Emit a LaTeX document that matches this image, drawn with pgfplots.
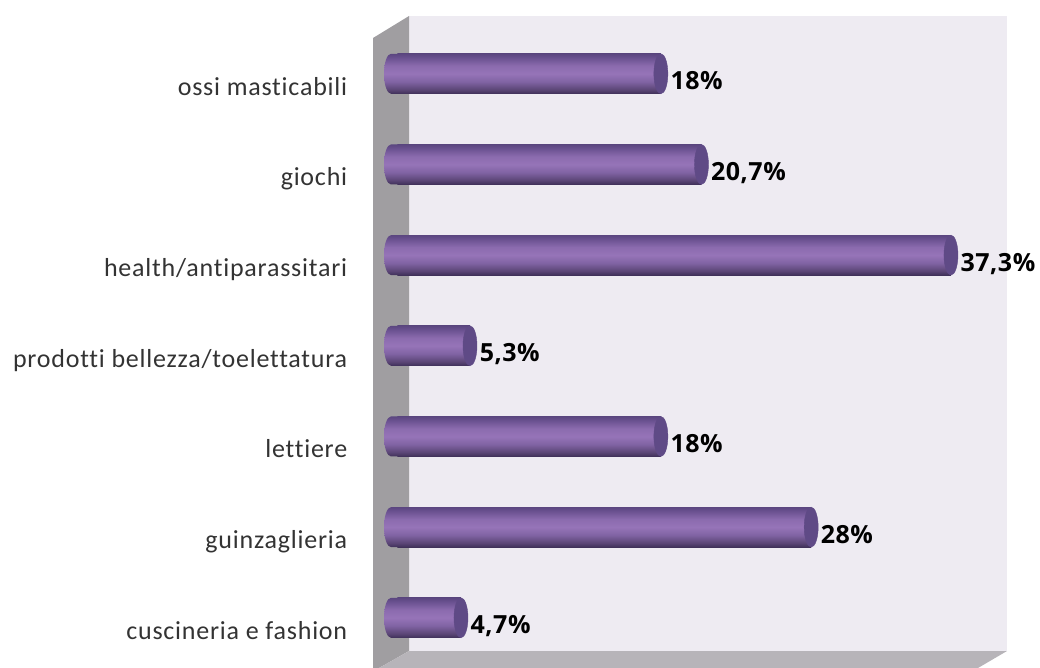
\documentclass[border=0pt]{standalone}
\usepackage{fontspec}
\setmainfont{Carlito}[LetterSpace=3,Ligatures=NoCommon]
\newfontfamily\labelfont{Open Sans}[LetterSpace=2]
\usepackage{pgfplots}
\usepackage{pgfplotstable}
\pgfplotsset{compat=1.18}

\definecolor{backwall}{HTML}{EEEBF2}
\definecolor{sidewall}{HTML}{A09EA1}
\definecolor{floorcol}{HTML}{B7B4B9}
\definecolor{capcol}{HTML}{5F4A86}
\definecolor{txt}{HTML}{333333}
\definecolor{cylA}{HTML}{3F3059}
\definecolor{cylB}{HTML}{5A4575}
\definecolor{cylC}{HTML}{8063A3}
\definecolor{cylD}{HTML}{9674B8}
\definecolor{cylE}{HTML}{8B6BAE}
\definecolor{cylF}{HTML}{6A5190}
\definecolor{cylG}{HTML}{5B4680}

\pgfdeclareverticalshading{barcyl}{100bp}{
  color(0bp)=(cylA);
  color(25bp)=(cylA);
  color(30bp)=(cylB);
  color(40bp)=(cylC);
  color(50bp)=(cylD);
  color(60bp)=(cylE);
  color(70bp)=(cylF);
  color(75bp)=(cylG);
  color(100bp)=(cylG)}

\pgfdeclareplotmark{capL}{
  \path[shading=barcyl, draw=none] (1.5pt,-20pt) -- (-6.4pt,-20pt)
    arc[start angle=270,end angle=90,x radius=7pt,y radius=20pt]
    -- (1.5pt,20pt) -- cycle;
}
\pgfdeclareplotmark{capR}{
  \fill[capcol] (0pt,0pt) ellipse[x radius=7pt,y radius=20pt];
}

% pos = row from the bottom, v = percent, lab = printed value
\pgfplotstableread{
pos v    lab
6   18   18
5   20.7 20,7
4   37.3 37,3
3   5.3  5,3
2   18   18
1   28   28
0   4.7  4,7
}\bars

\pgfplotsset{body/.style={xbar, bar width=40pt, bar shift=0pt, draw=none, shading=barcyl,
  x filter/.expression={x-0.47}}}

\begin{document}
\begin{tikzpicture}[x=1pt,y=1pt]
\useasboundingbox (0,0) rectangle (1040,668);

% the box, in pixels of the picture
\begin{axis}[
  at={(0,0)}, anchor=south west, scale only axis,
  width=1040pt, height=668pt,
  xmin=0, xmax=1040, ymin=0, ymax=668, y dir=reverse,
  hide axis,
]
\addplot[fill=backwall, draw=none] coordinates {(409,16) (1007,16) (1007,651) (409,651)} --cycle;
\addplot[fill=sidewall, draw=none] coordinates {(373,38) (409,16) (409,651) (379,668) (373,668)} --cycle;
\addplot[fill=floorcol, draw=none] coordinates {(409,651) (1007,651) (978,668) (379,668)} --cycle;
\end{axis}

% the bars
\begin{axis}[
  at={(397.4pt,-0.8pt)}, anchor=south west, scale only axis,
  width=642.6pt, height=668pt,
  xmin=0, xmax=42.755, ymin=-0.5625, ymax=6.805,
  clip=false,
  axis line style={draw=none},
  tick style={draw=none},
  xtick=\empty,
  ytick={0,1,2,3,4,5,6},
  yticklabels={cuscineria e fashion,guinzaglieria,lettiere,prodotti bellezza/toelettatura,health/antiparassitari,giochi,ossi masticabili},
  yticklabel style={font=\fontsize{26}{26}\selectfont, text=txt, inner sep=0pt, anchor=base east, xshift=-50pt, yshift=-21.5pt},
]
\addplot[only marks, mark=capL] table[x expr=0, y=pos] {\bars};
% one plot per bar, so that each gets the whole shading
\addplot[body] coordinates {(18,6)};
\addplot[body] coordinates {(20.7,5)};
\addplot[body] coordinates {(37.3,4)};
\addplot[body] coordinates {(5.3,3)};
\addplot[body] coordinates {(18,2)};
\addplot[body] coordinates {(28,1)};
\addplot[body] coordinates {(4.7,0)};
\addplot[only marks, mark=capR] table[x expr=\thisrow{v}-0.47, y=pos] {\bars};
\addplot[draw=none, mark=none, point meta=explicit symbolic,
  nodes near coords={\pgfplotspointmeta\%},
  nodes near coords style={anchor=base west, inner sep=0pt, xshift=2.5pt, yshift=-16pt,
    font=\labelfont\bfseries\fontsize{25}{25}\selectfont, text=black}]
  table[x=v, y=pos, meta=lab] {\bars};
\end{axis}
\end{tikzpicture}
\end{document}
